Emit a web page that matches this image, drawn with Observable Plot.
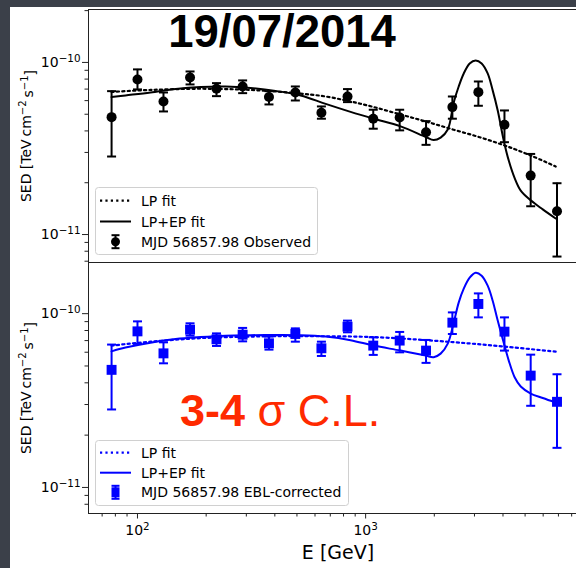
<!DOCTYPE html>
<html><head><meta charset="utf-8">
<script src="https://cdn.jsdelivr.net/npm/d3@7"></script>
<script src="https://cdn.jsdelivr.net/npm/@observablehq/plot@0.6"></script>
<style>
body{margin:0;width:576px;height:568px;background:#3b4049;overflow:hidden;position:relative;font-family:"DejaVu Sans",sans-serif;}
#paper{position:absolute;left:10px;top:7px;width:566px;height:561px;background:#fff;}
.abs{position:absolute;left:0;}
svg{overflow:visible;}
</style></head><body>
<div id="paper"></div>
<div id="top" class="abs" style="top:0"></div>
<div id="bot" class="abs" style="top:262px"></div>
<svg id="ov" class="abs" style="top:0" width="576" height="568"></svg>
<script>
// ---- data (SED values in units of 1e-10 TeV cm^-2 s^-1) ----
const UNIT = 1e-10;
const energy = [77,100,130,170,222,289,377,492,640,833,1080,1410,1840,2400,3120,4060,5290,6900];
const obs   = [0.481,0.796,0.593,0.818,0.703,0.725,0.629,0.669,0.510,0.634,0.471,0.479,0.393,0.550,0.672,0.434,0.220,0.1366];
const obsLo = [0.284,0.697,0.519,0.745,0.637,0.663,0.570,0.601,0.471,0.588,0.412,0.403,0.332,0.471,0.560,0.344,0.146,0.0745];
const obsHi = [0.681,0.911,0.669,0.886,0.758,0.786,0.681,0.725,0.555,0.700,0.531,0.531,0.456,0.634,0.775,0.526,0.294,0.1987];
const ebl   = [0.475,0.791,0.591,0.809,0.712,0.757,0.675,0.764,0.632,0.842,0.655,0.700,0.613,0.888,1.137,0.788,0.440,0.311];
const eblLo = [0.281,0.670,0.518,0.747,0.652,0.693,0.621,0.690,0.571,0.781,0.579,0.599,0.521,0.764,0.952,0.613,0.295,0.169];
const eblHi = [0.664,0.903,0.684,0.880,0.770,0.828,0.738,0.823,0.690,0.912,0.731,0.785,0.706,1.017,1.308,0.952,0.581,0.448];

const lpTopE = [77,114,189,313,493,668,859,1083,1424,1833,2408,3131,4071,5292,6808];
const lpTopV = [0.674,0.692,0.703,0.692,0.663,0.634,0.593,0.551,0.498,0.454,0.408,0.369,0.329,0.288,0.2485];
const lpBotE = [77,114,189,313,519,1083,2408,4071,6808];
const lpBotV = [0.655,0.690,0.723,0.738,0.742,0.733,0.686,0.646,0.605];

const epE    = [77,88.6,114,147,189,243,313,403,519,668,859,1083,1424,1833,1986,2132,2291,2433,2558,2692,2858,3036,3225,3427,3605,3793,4030,4240,4505,4785,5292,5975,6808];
const epTopV = [0.629,0.643,0.669,0.701,0.720,0.725,0.711,0.683,0.643,0.574,0.516,0.471,0.425,0.369,0.354,0.366,0.408,0.585,0.725,0.863,0.987,1.027,0.987,0.863,0.688,0.526,0.352,0.269,0.212,0.180,0.158,0.140,0.124];
const epBotV = [0.607,0.638,0.681,0.714,0.733,0.747,0.752,0.754,0.752,0.738,0.704,0.655,0.613,0.574,0.562,0.589,0.672,0.888,1.157,1.392,1.610,1.720,1.654,1.449,1.188,0.912,0.681,0.537,0.429,0.381,0.347,0.327,0.308];

const xDomain = [61, 8400];
const yTopDomain = [6.88e-12, 2.03e-10];
const yBotDomain = [7.08e-12, 1.97e-10];
const xMajor = [100, 1000];
const xMinor = [70,80,90,200,300,400,500,600,700,800,900,2000,3000,4000,5000,6000,7000,8000];
const yMajor = [1e-11, 1e-10];
const yMinorTop = [7e-12,8e-12,9e-12,2e-11,3e-11,4e-11,5e-11,6e-11,7e-11,8e-11,9e-11,2e-10];
const yMinorBot = [8e-12,9e-12,2e-11,3e-11,4e-11,5e-11,6e-11,7e-11,8e-11,9e-11];

// ---- tables ----
const pts = (v, lo, hi) => energy.map((E, i) => ({E, v: v[i]*UNIT, lo: lo[i]*UNIT, hi: hi[i]*UNIT}));
const crv = (E, V) => E.map((e, i) => ({E: e, v: V[i]*UNIT}));
const topPts = pts(obs, obsLo, obsHi), botPts = pts(ebl, eblLo, eblHi);

const capSymbol = {draw(ctx){ ctx.moveTo(-4.5, 0); ctx.lineTo(4.5, 0); }};
const fmt = d => "10^" + Math.round(Math.log10(d));
const SPINE = "#222";

function panel(data, lp, ep, color, yDomain, yMinor, isBottom, marker) {
  const marks = [
    Plot.line(lp, {x: "E", y: "v", stroke: color, strokeWidth: 2.2, strokeDasharray: "2.2,3.2", curve: "catmull-rom"}),
    Plot.line(ep, {x: "E", y: "v", stroke: color, strokeWidth: 2, curve: "catmull-rom"}),
    Plot.ruleX(data, {x: "E", y1: "lo", y2: "hi", stroke: color, strokeWidth: 2}),
    Plot.dot(data, {x: "E", y: "lo", symbol: capSymbol, stroke: color, strokeWidth: 2}),
    Plot.dot(data, {x: "E", y: "hi", symbol: capSymbol, stroke: color, strokeWidth: 2}),
    marker === "square"
      ? Plot.dot(data, {x: "E", y: "v", symbol: "square", r: 5.6, fill: color})
      : Plot.dot(data, {x: "E", y: "v", r: 5, fill: color}),
    Plot.axisY(yMajor, {tickSize: 6, tickPadding: 2, tickFormat: fmt, label: null, stroke: SPINE}),
    Plot.axisY(yMinor, {tickSize: 3.5, tickFormat: () => "", label: null, stroke: SPINE}),
    Plot.ruleX([xDomain[0]], {stroke: SPINE}),
    Plot.ruleY([yDomain[0]], {stroke: SPINE})
  ];
  if (!isBottom) marks.push(Plot.ruleY([yDomain[1]], {stroke: SPINE}));
  if (isBottom) {
    marks.push(Plot.axisX(xMajor, {tickSize: 5.5, tickPadding: 6, tickFormat: fmt, label: null, stroke: SPINE}));
    marks.push(Plot.axisX(xMinor, {tickSize: 3.5, tickFormat: () => "", label: null, stroke: SPINE}));
  }
  return Plot.plot({
    width: 576,
    height: isBottom ? 306 : 262,
    marginLeft: 88, marginRight: 0,
    marginTop: isBottom ? 0 : 9,
    marginBottom: isBottom ? 55 : 0,
    style: {fontSize: "14px", fontFamily: "DejaVu Sans", color: "#000", background: "transparent", overflow: "visible"},
    x: {type: "log", domain: xDomain, axis: isBottom ? undefined : null},
    y: {type: "log", domain: yDomain},
    marks
  });
}

function supify(svg) {
  d3.select(svg).selectAll("text").each(function () {
    const m = this.textContent.match(/^10\^(-?\d+)$/);
    if (!m) return;
    const el = d3.select(this);
    el.text("");
    el.append("tspan").text("10");
    el.append("tspan").attr("dy", "-0.5em").attr("font-size", "0.74em").text(m[1].replace("-", "\u2212"));
  });
}

const topSvg = panel(topPts, crv(lpTopE, lpTopV), crv(epE, epTopV), "black", yTopDomain, yMinorTop, false, "circle");
const botSvg = panel(botPts, crv(lpBotE, lpBotV), crv(epE, epBotV), "#0000ff", yBotDomain, yMinorBot, true, "square");
supify(topSvg); supify(botSvg);
document.getElementById("top").appendChild(topSvg);
document.getElementById("bot").appendChild(botSvg);

// ---- overlay text & legends ----
const ov = d3.select("#ov");
ov.append("text").attr("x", 282).attr("y", 47).attr("text-anchor", "middle")
  .attr("font-family", "Liberation Sans, Arial, sans-serif").attr("font-weight", "bold").attr("font-size", 45.5)
  .attr("fill", "#000").text("19/07/2014");

const cl = ov.append("text").attr("x", 180).attr("y", 426)
  .attr("font-family", "Liberation Sans, Arial, sans-serif").attr("font-size", 45).attr("fill", "#ff2a00");
cl.append("tspan").attr("font-weight", "bold").text("3-4");
cl.append("tspan").text(" \u03c3 C.L.");

function ylabel(cy) {
  const t = ov.append("text").attr("transform", `translate(31,${cy}) rotate(-90)`).attr("text-anchor", "middle")
    .attr("font-size", 14).attr("font-family", "DejaVu Sans").attr("fill", "#000");
  t.append("tspan").text("SED [TeV\u2009cm");
  t.append("tspan").attr("dy", "-0.45em").attr("font-size", "0.72em").text("\u22122");
  t.append("tspan").attr("dy", "0.45em").text("\u2009s");
  t.append("tspan").attr("dy", "-0.45em").attr("font-size", "0.72em").text("\u22121");
  t.append("tspan").attr("dy", "0.45em").text("]");
}
ylabel(136); ylabel(388);

ov.append("text").attr("x", 338).attr("y", 559).attr("text-anchor", "middle")
  .attr("font-size", 19).attr("font-family", "DejaVu Sans").attr("fill", "#000").text("E [GeV]");

function legend(x, y, w, h, rows, color, label, marker) {
  const g = ov.append("g");
  g.append("rect").attr("x", x + 0.5).attr("y", y + 0.5).attr("width", w).attr("height", h).attr("rx", 3)
    .attr("fill", "rgba(255,255,255,0.8)").attr("stroke", "#d0d0d0");
  const labels = ["LP fit", "LP+EP fit", label];
  g.append("line").attr("x1", 100).attr("x2", 131).attr("y1", rows[0]).attr("y2", rows[0])
    .attr("stroke", color).attr("stroke-width", 2.2).attr("stroke-dasharray", "2.2,3.2");
  g.append("line").attr("x1", 100).attr("x2", 131).attr("y1", rows[1]).attr("y2", rows[1])
    .attr("stroke", color).attr("stroke-width", 2);
  const r2 = rows[2];
  g.append("line").attr("x1", 115.5).attr("x2", 115.5).attr("y1", r2 - 6.5).attr("y2", r2 + 6.5).attr("stroke", color).attr("stroke-width", 2);
  g.append("line").attr("x1", 111.5).attr("x2", 119.5).attr("y1", r2 - 6.5).attr("y2", r2 - 6.5).attr("stroke", color).attr("stroke-width", 2);
  g.append("line").attr("x1", 111.5).attr("x2", 119.5).attr("y1", r2 + 6.5).attr("y2", r2 + 6.5).attr("stroke", color).attr("stroke-width", 2);
  if (marker === "square") g.append("rect").attr("x", 111.5).attr("y", r2 - 5).attr("width", 8).attr("height", 10).attr("fill", color);
  else g.append("circle").attr("cx", 115.5).attr("cy", r2).attr("r", 4.5).attr("fill", color);
  labels.forEach((t, i) => g.append("text").attr("x", 141).attr("y", rows[i]).attr("dy", "0.36em")
    .attr("font-size", 14).attr("font-family", "DejaVu Sans").attr("fill", "#000").text(t));
}
legend(95, 187, 222, 67, [200.7, 221.5, 241.7], "#000", "MJD 56857.98 Observed", "circle");
legend(95, 440, 253, 65, [452.7, 472.7, 492.3], "#0000ff", "MJD 56857.98 EBL-corrected", "square");
</script>
</body></html>
